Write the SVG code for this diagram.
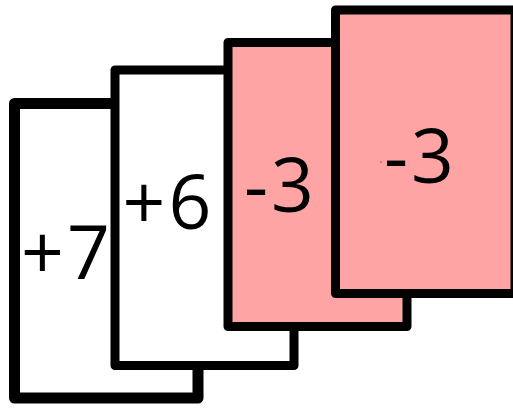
<svg xmlns="http://www.w3.org/2000/svg" width="513" height="409" viewBox="0 0 513 409">
<style>
.card{stroke:#000;stroke-width:9;stroke-linejoin:round}
.white{fill:#fff}
.pink{fill:#ffa4a4}
.lbl{font-family:"Open Sans",sans-serif;font-size:75px;fill:#000;text-anchor:middle;letter-spacing:3px}
</style>
<rect width="513" height="409" fill="#fff"/>
<g id="card1"><rect class="card white" x="14.5" y="103.5" width="183.5" height="294.5" style="stroke-width:11"/><text class="lbl" x="67" y="279">+7</text></g>
<g id="card2"><rect class="card white" x="115" y="70" width="179" height="295.5"/><text class="lbl" x="168.5" y="229">+6</text></g>
<g id="card3"><rect class="card pink" x="228" y="42.5" width="179" height="284"/><text class="lbl" x="280.5" y="212">-3</text></g>
<g id="card4"><rect class="card pink" x="335.5" y="10" width="179.5" height="283.5"/><circle cx="381" cy="162" r="1" fill="#b07070"/><text class="lbl" x="420.5" y="183">-3</text></g>
<g id="connectors"/>
</svg>
